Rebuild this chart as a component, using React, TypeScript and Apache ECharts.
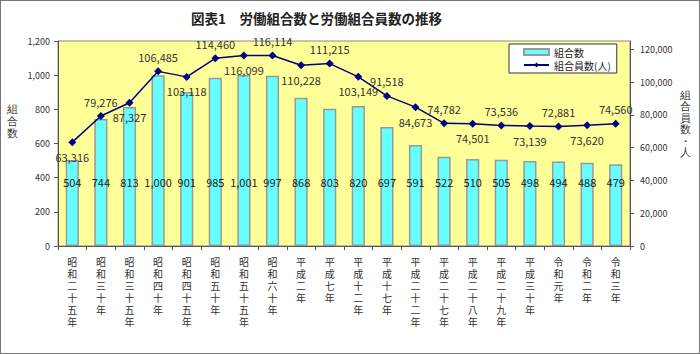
import React, { useEffect, useRef } from "react";
import * as echarts from "echarts";

const categories = [
  "昭和二十五年", "昭和三十年", "昭和三十五年", "昭和四十年", "昭和四十五年",
  "昭和五十年", "昭和五十五年", "昭和六十年", "平成二年", "平成七年",
  "平成十二年", "平成十七年", "平成二十二年", "平成二十七年", "平成二十八年",
  "平成二十九年", "平成三十年", "令和元年", "令和二年", "令和三年",
];
const unionCounts = [504, 744, 813, 1000, 901, 985, 1001, 997, 868, 803, 820, 697, 591, 522, 510, 505, 498, 494, 488, 479];
const memberCounts = [63316, 79276, 87327, 106485, 103118, 114460, 116099, 116114, 110228, 111215, 103149, 91518, 84673, 74782, 74501, 73536, 73139, 72881, 73620, 74560];

const FONT = "'Noto Sans CJK JP', sans-serif";
const fmt = (v: number) => v.toLocaleString("en-US");

export default function App() {
  const ref = useRef<HTMLDivElement>(null);
  useEffect(() => {
    if (!ref.current) return;
    const chart = echarts.init(ref.current, undefined, { renderer: "svg" });
    chart.setOption({
      animation: false,
      backgroundColor: "#ffffff",
      textStyle: { fontFamily: FONT },
      title: {
        text: "図表1　労働組合数と労働組合員数の推移",
        left: 185,
        top: 5,
        textStyle: { fontSize: 13.5, fontWeight: "bold", color: "#222", fontFamily: FONT },
      },
      legend: {
        left: 508,
        top: 43,
        orient: "vertical",
        backgroundColor: "#ffffff",
        borderColor: "#333",
        borderWidth: 1,
        borderRadius: 0,
        padding: [3, 6, 3, 14],
        itemGap: 3,
        itemWidth: 25,
        itemHeight: 6,
        textStyle: { fontSize: 10, color: "#222", fontFamily: FONT },
        data: [
          { name: "組合数", icon: "rect" },
          { name: "組合員数(人)" },
        ],
      },
      grid: {
        left: 57,
        right: 69,
        top: 40,
        bottom: 107,
        show: true,
        backgroundColor: "#FFFF99",
        borderColor: "#888",
        borderWidth: 1,
      },
      xAxis: {
        type: "category",
        data: categories,
        axisLine: { lineStyle: { color: "#555" } },
        axisTick: { show: true, lineStyle: { color: "#555" }, length: 4 },
        axisLabel: {
          interval: 0,
          margin: 9,
          fontSize: 10,
          lineHeight: 12,
          color: "#333",
          fontFamily: FONT,
          formatter: (v: string) => v.split("").join("\n"),
        },
      },
      yAxis: [
        {
          type: "value",
          min: 0,
          max: 1200,
          interval: 200,
          splitLine: { show: false },
          axisLine: { show: true, lineStyle: { color: "#555" } },
          axisTick: { show: true, length: 4, lineStyle: { color: "#555" } },
          axisLabel: { fontSize: 9, color: "#333", formatter: (v: number) => fmt(v), fontFamily: FONT },
        },
        {
          type: "value",
          min: 0,
          max: 125000,
          interval: 20000,
          splitLine: { show: false },
          axisLine: { show: true, lineStyle: { color: "#555" } },
          axisTick: { show: true, length: 4, lineStyle: { color: "#555" } },
          axisLabel: {
            fontSize: 9,
            color: "#333",
            margin: 10,
            showMaxLabel: false,
            formatter: (v: number) => (v > 120000 ? "" : fmt(v)),
            fontFamily: FONT,
          },
        },
      ],
      series: [
        {
          name: "組合数",
          type: "bar",
          yAxisIndex: 0,
          data: unionCounts,
          barWidth: "46%",
          itemStyle: { color: "#66FFFF", borderColor: "#999", borderWidth: 1.5 },
          label: {
            show: true,
            position: "insideBottom",
            distance: 59,
            fontSize: 11,
            color: "#222",
            fontFamily: FONT,
            formatter: (p: any) => fmt(p.value),
          },
        },
        {
          name: "組合員数(人)",
          type: "line",
          yAxisIndex: 1,
          data: memberCounts.map((v, i) => ({
            value: v,
            label: { position: i % 2 === 0 ? "bottom" : "top" },
          })),
          symbol: "diamond",
          symbolSize: 8,
          lineStyle: { color: "#000080", width: 1.5 },
          itemStyle: { color: "#000080" },
          label: {
            show: true,
            fontSize: 11,
            distance: 5,
            color: "#333",
            fontFamily: FONT,
            formatter: (p: any) => fmt(p.value),
          },
        },
      ],
      graphic: [
        {
          type: "text",
          left: 6,
          top: 102,
          style: { text: "組\n合\n数", fontSize: 11, lineHeight: 12, fill: "#333", font: `11px ${FONT}` },
        },
        {
          type: "text",
          left: 679,
          top: 88,
          style: { text: "組\n合\n員\n数\n・\n人", fontSize: 11, lineHeight: 11.5, fill: "#333", font: `11px ${FONT}` },
        },
      ],
    });
    return () => chart.dispose();
  }, []);
  return (
    <div
      ref={ref}
      style={{
        position: "fixed",
        left: 0,
        top: 0,
        width: 700,
        height: 354,
        boxSizing: "border-box",
        border: "1px solid #777",
      }}
    />
  );
}
